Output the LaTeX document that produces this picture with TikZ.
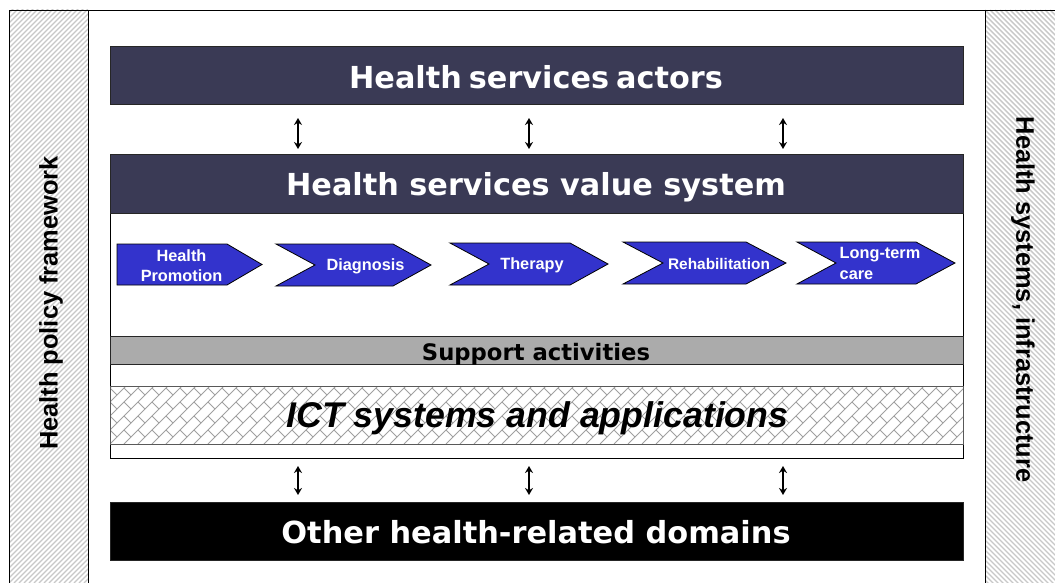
\documentclass[tikz,border=0pt]{standalone}
\usepackage{fontspec}
\setmainfont{Liberation Sans}
\newfontfamily\headfont{DejaVu Sans}
\usetikzlibrary{arrows.meta}
\definecolor{slatebar}{HTML}{3A3A55}
\definecolor{chevblue}{HTML}{3333CC}
\definecolor{supgray}{HTML}{ABABAB}
\definecolor{hatchgray}{HTML}{C8C8C8}
\definecolor{brickgray}{HTML}{A0A0A0}
\tikzset{
  bar/.style={draw=black!85,line width=0.9pt,minimum width=853pt,inner sep=0pt,anchor=north west},
  head/.style={text=white,font=\headfont\bfseries\fontsize{30.3}{32}\selectfont},
  chev/.style={draw=black,line width=0.8pt,fill=chevblue},
  chevtext/.style={text=white,font=\bfseries\fontsize{16.3}{20}\selectfont,align=center,inner sep=0pt},
  link/.style={line width=1.5pt,{Stealth[length=7pt,width=8pt]}-{Stealth[length=7pt,width=8pt]}},
  frame/.style={draw=black,line width=1pt},
}
\newcommand{\chevshape}[6]{\draw[chev] (#1,#5)--(#3,#5)--(#4,{(#5+#6)/2})--(#3,#6)--(#1,#6)--(#2,{(#5+#6)/2})--cycle;}
\begin{document}
\begin{tikzpicture}[x=1pt,y=-1pt]
\useasboundingbox (0,0) rectangle (1055,583);
\fill[white] (0,0) rectangle (1055,583);
% side panels
\begin{scope}
\clip (9,10) rectangle (88,583);
\foreach \k in {0,...,135} \draw[hatchgray,line width=1.4pt] ({9+\k*5-600},583)--++(700,-700);
\end{scope}
\begin{scope}
\clip (985,10) rectangle (1055,583);
\foreach \k in {0,...,135} \draw[hatchgray,line width=1.4pt] ({985+\k*5-600},10)--++(700,700);
\end{scope}
\draw[frame] (9.5,583)--(9.5,11)--(1055,11);
\draw[frame] (88.5,11)--(88.5,583);
\draw[frame] (985.5,11)--(985.5,583);
\node[rotate=90,font=\bfseries\fontsize{25.4}{28}\selectfont] (policy) at (51,303) {Health policy framework};
\node[rotate=-90,font=\bfseries\fontsize{25.4}{28}\selectfont] (infra) at (1023,299.5) {Health systems, infrastructure};
% outer value system box
\draw[frame,fill=white] (110,154.5) rectangle (963.5,458.5);
% bars
\node[bar,fill=slatebar,minimum height=57.5pt] (actors) at (110,46.5) {};
\node[head] at (536,77) (actorst) {Health\hspace{-3.5pt} services\hspace{-3.5pt} actors};
\node[bar,fill=slatebar,minimum height=58.5pt] (value) at (110,154.5) {};
\node[head] at (536,187) (valuet) {Health services value system};
\node[bar,fill=supgray,minimum height=28.5pt] (support) at (110,335.5) {};
\node[font=\headfont\bfseries\fontsize{22.7}{24}\selectfont] at (536,354) (supportt) {Support activities};
% ICT brick hatch
\begin{scope}
\clip (110,386) rectangle (963.5,444);
\foreach \k in {-6,...,62}{
  \pgfmathsetmacro{\xz}{110+\k*14}
  \draw[brickgray,line width=1pt] (\xz,444)--++(60,-60);
  \foreach \j in {0,1,2,3,4}{
    \draw[brickgray,line width=1pt] ({\xz+14*\j},{444-14*\j})--++(7,7);
  }
}
\end{scope}
\node[bar,draw=black!65,minimum height=58pt] (ict) at (110,386) {};
\node[font=\bfseries\itshape\fontsize{35.7}{38}\selectfont] at (537.5,418) (ictt) {ICT systems and applications};
\node[bar,fill=black,minimum height=58.5pt] (other) at (110,501.5) {};
\node[head,font=\headfont\bfseries\fontsize{30.4}{32}\selectfont] at (536,532) (othert) {Other health-related domains};
% chevrons
\draw[chev] (117,244)--(227,244)--(262,264.5)--(227,285)--(117,285)--cycle;
\chevshape{276}{315}{393}{431}{244}{286}
\chevshape{450}{489}{570}{608}{243}{285}
\chevshape{623}{663}{746}{786}{242}{284}
\chevshape{797}{836}{916}{955}{242}{284}
\node[chevtext] (c1) at (181.5,265.5) {Health\\Promotion};
\node[chevtext] (c2) at (365.5,266) {Diagnosis};
\node[chevtext] (c3) at (532,265) {Therapy};
\node[chevtext,font=\bfseries\fontsize{15.4}{20}\selectfont] (c4) at (719,263.5) {Rehabilitation};
\node[chevtext,font=\bfseries\fontsize{16.3}{21}\selectfont,align=left,anchor=west] (c5) at (839.5,263.5) {Long-term\\care};
% connectors
\foreach \n/\x in {a/298,b/529,c/783}{
  \coordinate (\n t) at (\x,118);
  \coordinate (\n m) at (\x,149);
  \coordinate (\n u) at (\x,466);
  \coordinate (\n l) at (\x,495);
  \draw[link] (\n t)--(\n m);
  \draw[link] (\n u)--(\n l);
}
\end{tikzpicture}
\end{document}
